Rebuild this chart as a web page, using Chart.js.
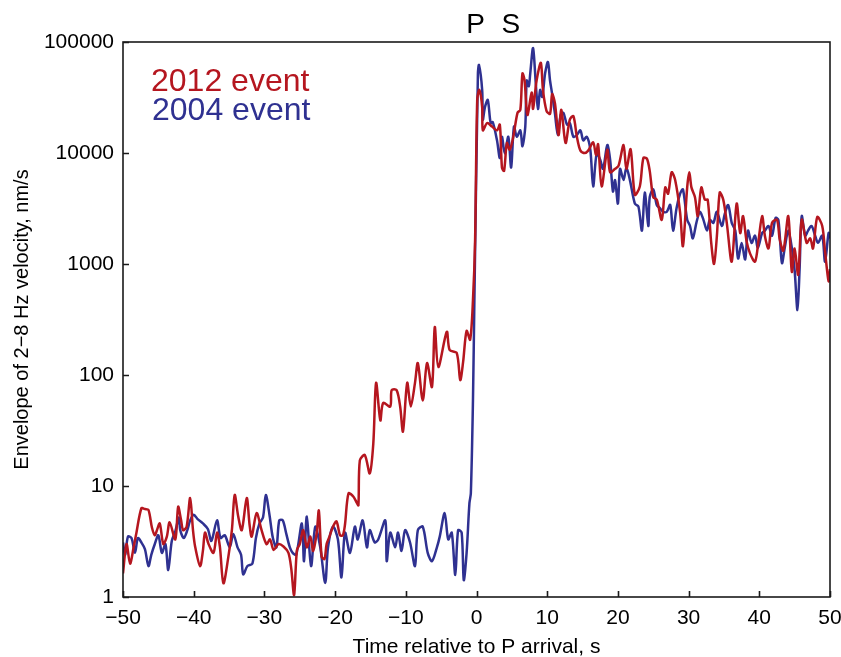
<!DOCTYPE html>
<html>
<head>
<meta charset="utf-8">
<script src="https://cdn.jsdelivr.net/npm/chart.js@4/dist/chart.umd.min.js"></script>
<style>
  html, body { margin: 0; padding: 0; background: #fff; }
  #wrap { width: 841px; height: 657px; }
</style>
</head>
<body>
<div id="wrap"><canvas id="myChart" width="841" height="657"></canvas></div>
<script>
// time relative to P arrival (s) and envelope values (nm/s)
var t2012 = [-50, -49.5, -49, -48.5, -48.1, -47.4, -46.9, -46.4, -45.9, -45.5, -45.2, -44.8, -44.3, -43.8, -43.4, -42.6, -42.2, -41.8, -41.5, -41,
  -40.5, -40.1, -39.8, -39.1, -38.7, -38.4, -37.9, -37.2, -36.7, -36.3, -35.8, -35.1, -34.6, -34.2, -33.7, -33.2, -32.5, -32.1, -31.8, -31.1,
  -30.4, -29.7, -29.2, -28.7, -28, -27.3, -26.6, -26.2, -25.8, -25.4, -25, -24.5, -24, -23.5, -23.1, -22.6, -22.3, -21.9, -21.5, -21.2,
  -20.8, -20.3, -19.8, -19.3, -18.9, -18.6, -18.1, -17.4, -16.9, -16.7, -16.5, -15.8, -15.1, -14.6, -14.2, -13.6, -13.2, -12.2, -12, -11.3,
  -10.8, -10.4, -9.8, -9.3, -8.7, -8.3, -7.6, -7, -6.3, -5.9, -5.4, -4.2, -3.8, -2.8, -2.3, -1.9, -1.4, -0.9, -0.5, -0.2,
  0.1, 0.4, 0.8, 0.9, 1.5, 2.2, 2.9, 3.3, 3.6, 3.9, 4.3, 4.7, 5.2, 5.8, 6.2, 6.5, 6.8, 7.2, 7.8, 8,
  8.5, 9.1, 9.4, 9.9, 10.4, 10.7, 11.1, 11.6, 12, 12.6, 13.2, 13.7, 14.2, 14.7, 15.3, 15.8, 16.5, 16.9, 17.2, 17.7,
  18.5, 18.9, 19.6, 20.1, 20.8, 21.2, 21.8, 22.4, 23.1, 23.6, 24.1, 24.5, 25, 25.5, 26.2, 26.7, 27.1, 27.6, 28.1, 28.8,
  29.2, 29.8, 30.1, 30.4, 30.9, 31.3, 31.8, 32.3, 32.7, 33.2, 33.6, 34, 34.4, 34.9, 35.4, 36.1, 36.8, 37.3, 37.7, 38.2,
  38.7, 39.4, 39.9, 40.4, 40.8, 41.3, 41.8, 42.5, 42.9, 43.4, 44.1, 44.6, 45, 45.5, 46, 46.7, 47.2, 47.6, 48.2, 48.9,
  49.3, 49.8, 50];
var v2012 = [1.63, 3.0, 2.0, 2.8, 3.8, 6.3, 6.2, 6.1, 4.2, 3.6, 4.0, 4.6, 3.0, 3.5, 4.7, 3.3, 6.5, 5.0, 4.0, 4.3,
  7.8, 4.0, 2.85, 1.9, 2.6, 3.8, 3.0, 2.5, 3.8, 2.85, 1.33, 2.3, 4.0, 8.3, 5.3, 4.0, 7.8, 4.5, 3.5, 5.7,
  4.0, 3.0, 3.3, 2.65, 3.0, 2.85, 2.5, 1.8, 1.04, 2.65, 3.0, 4.0, 2.8, 3.5, 2.6, 3.8, 6.0, 2.3, 2.2, 3.0,
  3.5, 4.3, 4.8, 3.6, 3.6, 4.5, 8.6, 8.0, 7.0, 6.7, 17, 19, 13, 24, 85, 39, 56, 52, 73, 73,
  52, 31, 85, 52, 85, 128, 59, 128, 78, 270, 118, 245, 168, 158, 90, 130, 250, 208, 470, 1640,
  30000, 37000, 26000, 16000, 18600, 17300, 16000, 18000, 7400, 6900, 12300, 10700, 14000, 23000, 24500, 52000, 45000, 22000, 35000, 25000,
  45000, 65000, 37000, 24000, 22500, 34000, 28000, 14500, 24500, 12300, 20000, 21500, 14000, 10500, 10000, 10500, 12500, 9600, 12000, 5000,
  10700, 6700, 7200, 7700, 11800, 7200, 10800, 4200, 5000, 9000, 8900, 6900, 4000, 3800, 2500, 4900, 4300, 6700, 5700, 2900,
  1450, 4900, 6700, 4900, 4000, 2700, 4900, 3800, 3800, 1550, 1000, 1780, 4400, 3800, 2350, 1050, 3500, 1900, 2700, 1600,
  1240, 1050, 1650, 2700, 1780, 1380, 2350, 2500, 1650, 1320, 2700, 850, 1380, 800, 2500, 1550, 1700, 1380, 2650, 2200,
  1300, 700, 900];

var t2004 = [-50, -49.7, -49.3, -48.8, -48.3, -47.9, -47.4, -46.9, -46.4, -46, -45.5, -45, -44.5, -44, -43.6, -43.1, -42.6, -42.1, -41.9, -41.4,
  -40.9, -40.5, -40, -39.4, -38.7, -38, -37.5, -36.7, -36.2, -35.6, -34.9, -34.4, -33.8, -33.3, -33, -32.4, -31.7, -31.2, -30.7, -30.2,
  -29.8, -29.3, -28.8, -28.3, -27.9, -27.4, -26.9, -26.4, -26, -25.5, -24.7, -24.4, -24, -23.4, -22.8, -22.1, -21.4, -21, -20.3, -19.6,
  -19.1, -18.6, -17.9, -17.2, -16.8, -16.1, -15.5, -15.1, -14.4, -13.9, -12.9, -12.7, -12.2, -11.5, -11.1, -10.6, -10.1, -9.4, -8.7, -8.3,
  -7.6, -6.9, -6.3, -5.6, -5.2, -4.5, -4, -3.5, -3, -2.6, -2.1, -1.8, -1.4, -1, -0.8, -0.5, -0.3, 0.2, 0.35, 0.8,
  0.9, 1.2, 1.6, 2, 2.3, 2.9, 3.3, 3.6, 4, 4.5, 4.9, 5.3, 5.7, 6.2, 6.5, 6.9, 7.1, 7.4, 7.6, 8,
  8.4, 8.7, 9, 9.3, 9.7, 10.1, 10.4, 10.7, 11.1, 11.5, 11.9, 12.3, 12.8, 13.2, 13.7, 14.2, 14.7, 15.1, 15.6, 16.1,
  16.5, 17, 17.5, 17.9, 18.5, 18.9, 19.3, 19.6, 20, 20.3, 20.8, 21.2, 21.7, 22.4, 22.9, 23.4, 23.8, 24.3, 24.5, 25,
  25.5, 25.9, 26.4, 26.9, 27.4, 27.8, 28.3, 28.8, 29.2, 29.8, 30.2, 30.6, 31.1, 31.6, 32.1, 32.6, 33, 33.5, 34, 34.7,
  35.1, 35.6, 36.1, 36.6, 37, 37.5, 38, 38.4, 38.9, 39.4, 39.8, 40.4, 40.8, 41.3, 41.8, 42.3, 42.7, 43.2, 43.6, 44.1,
  44.6, 45, 45.4, 45.7, 46, 46.5, 46.9, 47.4, 47.9, 48.3, 48.9, 49.3, 49.8, 50];
var v2004 = [3.1, 2.4, 3.5, 3.4, 2.5, 3.4, 3.1, 2.7, 1.9, 2.4, 3.0, 3.6, 2.5, 3.0, 1.75, 3.2, 3.9, 5.2, 4.0, 3.4,
  4.0, 4.9, 5.5, 5.0, 4.6, 4.1, 3.2, 4.9, 3.4, 3.6, 2.8, 3.7, 2.8, 2.4, 1.6, 1.9, 2.0, 3.4, 4.6, 5.2,
  8.3, 5.6, 3.4, 2.8, 4.9, 4.9, 3.7, 2.8, 2.5, 2.4, 4.6, 2.1, 5.3, 1.9, 4.3, 2.8, 1.34, 2.8, 4.3, 3.3,
  1.5, 3.8, 2.5, 4.3, 3.3, 4.9, 2.8, 4.0, 3.1, 3.3, 4.9, 2.1, 3.8, 2.8, 3.8, 2.6, 4.0, 3.1, 1.9, 4.0,
  4.3, 2.5, 2.1, 2.8, 3.5, 5.7, 3.3, 3.8, 1.58, 4.0, 3.8, 1.42, 2.5, 7.0, 8.6, 59, 470, 52000, 62000, 37000,
  20000, 26000, 30000, 18600, 19000, 13000, 9000, 14000, 9900, 14000, 7400, 17300, 14000, 16000, 11500, 17300, 45000, 40000, 52000, 88000,
  41000, 25000, 37000, 32000, 52000, 66000, 45000, 34000, 22500, 14500, 22000, 23000, 18000, 18600, 14000, 14500, 16000, 13000, 14000, 10700,
  5000, 9900, 8700, 7200, 11800, 8700, 4500, 5700, 3500, 7200, 5700, 7400, 5700, 3500, 3300, 2000, 4400, 2200, 4000, 4700,
  3400, 3200, 2950, 2950, 3400, 2000, 3200, 4300, 4700, 2500, 2200, 1700, 2350, 2950, 2500, 2000, 2500, 2350, 2950, 2200,
  2800, 3400, 2350, 2000, 1120, 1550, 1100, 2000, 1550, 1800, 1400, 1900, 2000, 2200, 1800, 2600, 2500, 1020, 1400, 2000,
  1400, 870, 385, 900, 2700, 1800, 2000, 2200, 1800, 1550, 1800, 1050, 1900, 1700];

var yTicks = [1, 10, 100, 1000, 10000, 100000];
var xTicks = [-50, -40, -30, -20, -10, 0, 10, 20, 30, 40, 50];
var seriesNames = ['2012 event', '2004 event'];
var phaseLabels = ['P', 'S'];
var phaseTimes = [0, 5];

var RED = '#b5161f';
var BLUE = '#2f3191';
var FONT = '"Liberation Sans", Arial, Helvetica, sans-serif';

function toPoints(ts, vs) {
  var pts = [];
  for (var i = 0; i < ts.length; i++) pts.push({ x: ts[i], y: vs[i] });
  return pts;
}

function minusSign(v) {
  return String(v).replace('-', '\u2212');
}

// box, inward ticks, legend text and phase labels
var decorPlugin = {
  id: 'decor',
  afterDraw: function(chart) {
    var ctx = chart.ctx;
    var a = chart.chartArea;
    var xs = chart.scales.x, ys = chart.scales.y;
    ctx.save();
    ctx.strokeStyle = '#1a1a1a';
    ctx.lineWidth = 1.6;
    ctx.strokeRect(a.left, a.top, a.right - a.left, a.bottom - a.top);
    ctx.beginPath();
    xTicks.forEach(function(t) {
      var px = Math.round(xs.getPixelForValue(t)) + 0.5;
      ctx.moveTo(px, a.bottom);
      ctx.lineTo(px, a.bottom - 6);
    });
    yTicks.forEach(function(t) {
      var py = Math.round(ys.getPixelForValue(t)) + 0.5;
      ctx.moveTo(a.left, py);
      ctx.lineTo(a.left + 6, py);
    });
    ctx.stroke();

    ctx.font = '32px ' + FONT;
    ctx.textAlign = 'left';
    ctx.textBaseline = 'alphabetic';
    ctx.fillStyle = RED;
    ctx.fillText(seriesNames[0], 151, 91);
    ctx.fillStyle = BLUE;
    ctx.fillText(seriesNames[1], 152, 120);

    ctx.font = '28px ' + FONT;
    ctx.fillStyle = '#000';
    ctx.textAlign = 'center';
    phaseLabels.forEach(function(lab, i) {
      ctx.fillText(lab, xs.getPixelForValue(phaseTimes[i]) - 1, 33);
    });
    ctx.restore();
  }
};

var ctx = document.getElementById('myChart').getContext('2d');
var chart = new Chart(ctx, {
  type: 'line',
  data: {
    datasets: [{
      label: seriesNames[0],
      data: toPoints(t2012, v2012),
      borderColor: RED,
      backgroundColor: RED,
      borderWidth: 2.5,
      pointRadius: 0,
      tension: 0.3
    }, {
      label: seriesNames[1],
      data: toPoints(t2004, v2004),
      borderColor: BLUE,
      backgroundColor: BLUE,
      borderWidth: 2.5,
      pointRadius: 0,
      tension: 0.3
    }]
  },
  options: {
    responsive: false,
    animation: false,
    layout: { padding: { top: 42, right: 11, left: 0, bottom: 0 } },
    plugins: {
      legend: { display: false },
      tooltip: { enabled: false }
    },
    scales: {
      x: {
        type: 'linear',
        min: -50,
        max: 50,
        grid: { display: false, drawTicks: false },
        border: { display: false },
        afterBuildTicks: function(scale) {
          scale.ticks = xTicks.map(function(v) { return { value: v }; });
        },
        afterFit: function(scale) {
          scale.height = 60;
          scale.paddingLeft = 0;
          scale.paddingRight = 0;
        },
        ticks: {
          padding: 9,
          color: '#000',
          font: { family: FONT, size: 21 },
          maxRotation: 0,
          callback: function(v) { return minusSign(v); }
        },
        title: {
          display: true,
          text: 'Time relative to P arrival, s',
          color: '#000',
          font: { family: FONT, size: 21 },
          padding: { top: 0, bottom: -3 }
        }
      },
      y: {
        type: 'logarithmic',
        min: 1,
        max: 100000,
        grid: { display: false, drawTicks: false },
        border: { display: false },
        afterBuildTicks: function(scale) {
          scale.ticks = yTicks.map(function(v) { return { value: v }; });
        },
        afterFit: function(scale) {
          scale.width = 123;
          scale.paddingTop = 0;
          scale.paddingBottom = 0;
        },
        ticks: {
          padding: 9,
          color: '#000',
          font: { family: FONT, size: 21 },
          callback: function(v) { return String(v); }
        },
        title: {
          display: true,
          text: 'Envelope of 2\u22128 Hz velocity, nm/s',
          color: '#000',
          font: { family: FONT, size: 20 },
          padding: { top: 10, bottom: 0 }
        }
      }
    }
  },
  plugins: [decorPlugin]
});
</script>
</body>
</html>
